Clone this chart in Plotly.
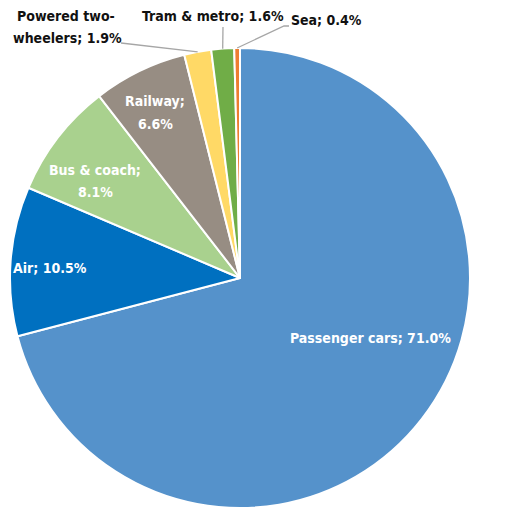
import math
import plotly.graph_objects as go

# Modal split of passenger transport (share of passenger-km, %)
modes = ["Passenger cars", "Air", "Bus & coach", "Railway",
         "Powered two-wheelers", "Tram & metro", "Sea"]
shares = [71.0, 10.5, 8.1, 6.6, 1.9, 1.6, 0.4]
colors = ["#5592CB", "#0070C0", "#A9D18E", "#978D83",
          "#FFD966", "#70AD47", "#ED7D31"]

W, H = 523, 510
CX, CY, R = 240, 278, 230  # pie centre and radius in pixels

FONT = "DejaVu Sans Condensed, Liberation Sans Narrow, Roboto, sans-serif"
FSIZE = 14

fig = go.Figure()
fig.add_trace(go.Pie(
    labels=modes,
    values=shares,
    sort=False,
    direction="clockwise",
    rotation=0,
    marker=dict(colors=colors, line=dict(color="white", width=2)),
    textinfo="none",
    hoverinfo="label+value",
    showlegend=False,
    domain=dict(x=[(CX - R) / W, (CX + R) / W],
                y=[1 - (CY + R) / H, 1 - (CY - R) / H]),
))

pct = [f"{v:.1f}%" for v in shares]

# Each label line: (x centre, y centre, text, colour)
WHITE, DARK = "white", "#111111"
label_lines = [
    (370, 338, f"{modes[0]}; {pct[0]}", WHITE),
    (50, 268, f"{modes[1]}; {pct[1]}", WHITE),
    (95, 170, f"{modes[2]};", WHITE),
    (95, 192, pct[2], WHITE),
    (155, 101, f"{modes[3]};", WHITE),
    (155, 124, pct[3], WHITE),
    (66, 16, "Powered two-", DARK),
    (67, 38, f"wheelers; {pct[4]}", DARK),
    (213, 16, f"{modes[5]}; {pct[5]}", DARK),
    (326, 20, f"{modes[6]}; {pct[6]}", DARK),
]

annotations = [
    dict(x=x, y=y, xref="x", yref="y", text=t, showarrow=False,
         font=dict(family=FONT, size=FSIZE, color=c, weight="bold"),
         align="center")
    for x, y, t, c in label_lines
]

# Leader lines from outside labels to the slice edge (mid-angle of each slice)
total = sum(shares)
cum = 0.0
edge = {}
for i, v in enumerate(shares):
    mid = (cum + v / 2) / total * 2 * math.pi
    edge[i] = (CX + R * math.sin(mid), CY - R * math.cos(mid))
    cum += v

shapes = []
line_style = dict(color="#A6A6A6", width=1.3)
starts = {4: [(121, 43)], 5: [(223, 27)], 6: [(289, 26), (284, 26)]}
for i, pts in starts.items():
    ex, ey = edge[i]
    path_pts = pts + [(ex, ey)]
    path = "M " + " L ".join(f"{px},{py}" for px, py in path_pts)
    shapes.append(dict(type="path", path=path, xref="x", yref="y", line=line_style))

fig.update_layout(
    width=W, height=H,
    margin=dict(l=0, r=0, t=0, b=0),
    paper_bgcolor="white", plot_bgcolor="rgba(0,0,0,0)",
    xaxis=dict(range=[0, W], visible=False, fixedrange=True),
    yaxis=dict(range=[H, 0], visible=False, fixedrange=True),
    annotations=annotations,
    shapes=shapes,
)

fig.write_html("out.html")
